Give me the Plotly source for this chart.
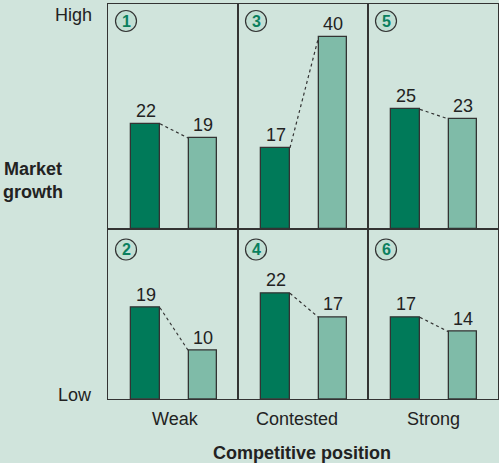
import plotly.graph_objects as go
from plotly.subplots import make_subplots

# ---- data ----
columns = ["Weak", "Contested", "Strong"]
row_levels = ["High", "Low"]
panel_ids = [[1, 3, 5], [2, 4, 6]]
before_values = [[22, 17, 25], [19, 22, 17]]
after_values = [[19, 40, 23], [10, 17, 14]]
x_title = "Competitive position"
y_title = ["Market", "growth"]

# ---- style ----
W, H = 499, 463
ML, MR, MT, MB = 108, 1, 4, 64
ROW_H = [225.3, 169.4]
BG = "#D0E4DC"
DARK = "#007A59"
LIGHT = "#7FBBA8"
EDGE = "#333333"
NUM_GREEN = "#0A7F5E"
FONT = "Liberation Sans, Arial, sans-serif"
FS = 18
PX_PER_UNIT = 4.8

fig = make_subplots(rows=2, cols=3, row_heights=ROW_H,
                    horizontal_spacing=0, vertical_spacing=0)

col_w = (W - ML - MR) / 3
annotations = []
shapes = []
for r in range(2):
    for c in range(3):
        b = before_values[r][c]
        a = after_values[r][c]
        n = r * 3 + c + 1
        xs = "x" if n == 1 else f"x{n}"
        ys = "y" if n == 1 else f"y{n}"
        fig.add_trace(go.Bar(x=[0, 1], y=[b, a], width=0.5,
                             marker=dict(color=[DARK, LIGHT],
                                         line=dict(color=EDGE, width=1.3)),
                             hoverinfo="skip", showlegend=False),
                      row=r + 1, col=c + 1)
        fig.add_trace(go.Scatter(x=[0.25, 0.75], y=[b, a], mode="lines",
                                 line=dict(color=EDGE, width=1.2, dash="dot"),
                                 hoverinfo="skip", showlegend=False),
                      row=r + 1, col=c + 1)
        for xi, v in [(0, b), (1, a)]:
            annotations.append(dict(x=xi, y=v, xref=xs, yref=ys, text=str(v),
                                    showarrow=False, yanchor="bottom", yshift=1,
                                    font=dict(family=FONT, size=FS, color="#222")))
        # circled panel number
        cx = 18 / col_w
        cy = 1 - (17 if r == 0 else 20) / ROW_H[r]
        shapes.append(dict(type="circle", xref=f"{xs} domain", yref=f"{ys} domain",
                           xsizemode="pixel", ysizemode="pixel",
                           xanchor=cx, yanchor=cy, x0=-10.5, x1=10.5, y0=-10.5, y1=10.5,
                           line=dict(color=EDGE, width=1.2), fillcolor="#C2DFD4"))
        annotations.append(dict(x=cx, y=cy, xref=f"{xs} domain", yref=f"{ys} domain",
                                text=f"<b>{panel_ids[r][c]}</b>", showarrow=False,
                                xanchor="center", yanchor="middle", yshift=0,
                                font=dict(family=FONT, size=16, color=NUM_GREEN)))
        fig.update_xaxes(range=[-0.66, 1.616], showticklabels=False, showgrid=False,
                         zeroline=False, showline=True, mirror=True,
                         linecolor=EDGE, linewidth=1, fixedrange=True,
                         row=r + 1, col=c + 1)
        fig.update_yaxes(range=[0, ROW_H[r] / PX_PER_UNIT], showticklabels=False,
                         showgrid=False, zeroline=False, showline=True, mirror=True,
                         linecolor=EDGE, linewidth=1, fixedrange=True,
                         row=r + 1, col=c + 1)

# column labels
label_dx = [2, -6, 0]
for c, lab in enumerate(columns):
    n = 4 + c
    annotations.append(dict(x=0.5, y=0, xref=f"x{n} domain", yref="paper", text=lab,
                            showarrow=False, xanchor="center", yanchor="middle",
                            xshift=label_dx[c], yshift=-(419 - (H - MB)),
                            font=dict(family=FONT, size=FS, color="#222")))
annotations.append(dict(x=0.5, y=0, xref="paper", yref="paper", text=f"<b>{x_title}</b>",
                        showarrow=False, xanchor="center", yanchor="middle",
                        xshift=-1, yshift=-(453 - (H - MB)),
                        font=dict(family=FONT, size=FS, color="#222")))
# row level labels
annotations.append(dict(x=0, y=1, xref="paper", yref="paper", text=row_levels[0],
                        showarrow=False, xanchor="right", yanchor="middle",
                        xshift=-14, yshift=-(15.2 - MT),
                        font=dict(family=FONT, size=FS, color="#222")))
annotations.append(dict(x=0, y=0, xref="paper", yref="paper", text=row_levels[1],
                        showarrow=False, xanchor="right", yanchor="middle",
                        xshift=-14, yshift=-(394.5 - (H - MB)),
                        font=dict(family=FONT, size=FS, color="#222")))
annotations.append(dict(x=0, y=1, xref="paper", yref="paper",
                        text="<b>" + "<br>".join(y_title) + "</b>",
                        showarrow=False, xanchor="center", yanchor="middle",
                        align="center", xshift=33 - ML, yshift=-(180 - MT),
                        font=dict(family=FONT, size=FS, color="#222")))

fig.update_layout(width=W, height=H, margin=dict(l=ML, r=MR, t=MT, b=MB),
                  paper_bgcolor=BG, plot_bgcolor=BG, bargap=0,
                  annotations=annotations, shapes=shapes, showlegend=False)

fig.write_html("out.html", config={"displayModeBar": False})
